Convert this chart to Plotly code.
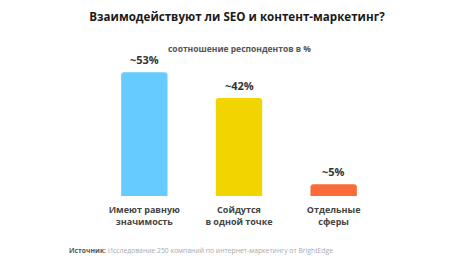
import plotly.graph_objects as go

categories = ["Имеют равную<br>значимость", "Сойдутся<br>в одной точке", "Отдельные<br>сферы"]
values = [53, 42, 5]
value_labels = ["~53%", "~42%", "~5%"]
colors = ["#66CCFF", "#F2D500", "#F96B3A"]

title = "Взаимодействуют ли SEO и контент-маркетинг?"
subtitle = "соотношение респондентов в %"
source_label = "Источник:"
source_text = "Исследование 250 компаний по интернет-маркетингу от BrightEdge"

FONT = "Open Sans"
x = list(range(len(categories)))

W, H = 474, 267
L, R, T, B = 97, 93, 56, 71
PW = W - L - R
PH = H - T - B


def py(pix):
    return (H - B - pix) / PH


def px(pix):
    return (pix - L) / PW


fig = go.Figure()
fig.add_trace(go.Bar(
    x=x, y=values, marker=dict(color=colors, line=dict(width=0)),
    hoverinfo="skip",
))

for xi, v, lab in zip(x, values, value_labels):
    fig.add_annotation(x=xi, y=v, text=f"<b>{lab}</b>", showarrow=False,
                       yanchor="bottom", yshift=3,
                       font=dict(family=FONT, size=11, color="#333333"))

fig.add_annotation(x=0.5, y=py(48), xref="paper", yref="paper", text=f"<b>{subtitle}</b>",
                   showarrow=False, yanchor="middle",
                   font=dict(family=FONT, size=8.5, color="#555555"))

fig.add_annotation(x=px(67), y=py(250), xref="paper", yref="paper", xanchor="left",
                   text=f"<span style='color:#555555'><b>{source_label}</b></span> {source_text}",
                   showarrow=False, yanchor="middle",
                   font=dict(family=FONT, size=6.8, color="#AAAAAA"))

fig.update_layout(
    width=W, height=H,
    margin=dict(l=L, r=R, t=T, b=B),
    paper_bgcolor="white", plot_bgcolor="white",
    bargap=0.51, barcornerradius=3,
    showlegend=False,
    title=dict(text=f"<b>{title}</b>", x=0.5, xanchor="center", y=1 - 17/267, yanchor="middle",
               font=dict(family=FONT, size=11.6, color="#1A1A1A")),
    xaxis=dict(range=[-0.5, 2.5], tickvals=x, ticktext=[f"<b>{c}</b>" for c in categories],
               showgrid=False, zeroline=False, showline=False, ticks="",
               ticklabelstandoff=7,
               tickfont=dict(family=FONT, size=9, color="#444444")),
    yaxis=dict(range=[0, 60], visible=False, showgrid=False, zeroline=False),
)

fig.write_html("out.html")
